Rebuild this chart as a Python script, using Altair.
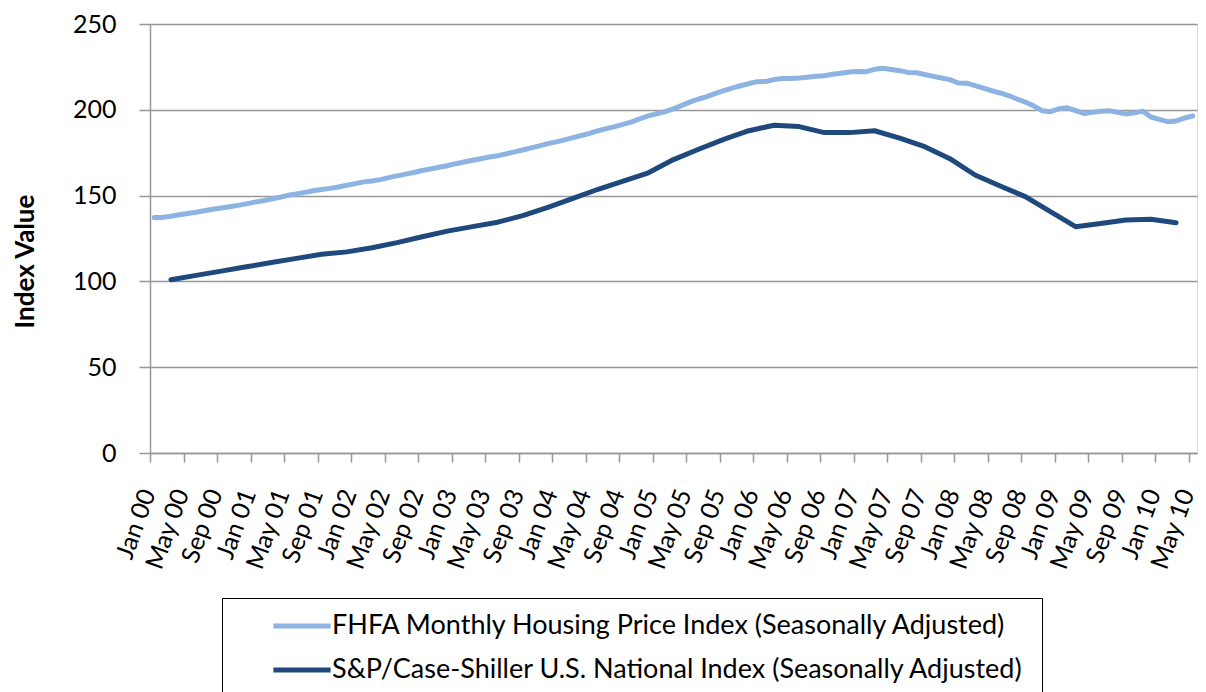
import altair as alt
import pandas as pd

# ---- data ----
fhfa_name = "FHFA Monthly Housing Price Index (Seasonally Adjusted)"
cs_name = "S&P/Case-Shiller U.S. National Index (Seasonally Adjusted)"
series_names = [fhfa_name, cs_name]
series_colors = ["#8db3e2", "#1f497d"]

# month index: 0 = Jan 2000
fhfa_months = list(range(0, 125))
fhfa_values = [
    137.3, 137.3, 138.0, 138.8, 139.6, 140.3, 141.2, 142.0, 142.8, 143.5,
    144.3, 145.2, 146.2, 147.0, 148.0, 149.0, 150.2, 151.0, 151.9, 152.8,
    153.6, 154.2, 155.0, 156.0, 157.0, 158.0, 158.5, 159.3, 160.5, 161.5,
    162.5, 163.5, 164.6, 165.5, 166.5, 167.4, 168.6, 169.6, 170.6, 171.5,
    172.5, 173.2, 174.3, 175.5, 176.6, 177.8, 179.0, 180.3, 181.3, 182.5,
    183.8, 185.0, 186.3, 187.8, 189.0, 190.2, 191.5, 193.0, 194.8, 196.5,
    197.7, 198.9, 200.6, 202.6, 204.6, 206.3, 207.7, 209.6, 211.2, 212.6,
    214.0, 215.3, 216.4, 216.5, 217.6, 218.2, 218.3, 218.5, 219.0, 219.5,
    219.8, 220.7, 221.3, 222.0, 222.3, 222.2, 223.6, 224.2, 223.5, 222.8,
    221.8, 221.6, 220.6, 219.5, 218.5, 217.6, 215.6, 215.5, 214.1, 212.6,
    211.1, 209.8, 208.3, 206.3, 204.5, 202.3, 199.5, 198.9, 200.6, 201.2,
    199.5, 197.9, 198.5, 199.1, 199.4, 198.6, 197.6, 198.2, 199.2, 195.8,
    194.4, 193.1, 193.5, 195.2, 196.4,
]

cs_months = list(range(2, 123, 3))
cs_values = [
    101.0, 103.5, 106.0, 108.5, 111.0, 113.4, 115.8, 117.2, 119.6, 122.6,
    126.0, 129.3, 131.9, 134.5, 138.3, 143.2, 148.4, 153.7, 158.5, 163.3,
    171.0, 177.0, 182.8, 187.8, 191.0, 190.2, 186.7, 186.7, 187.8, 183.5,
    178.5, 171.5, 162.0, 155.6, 149.4, 140.6, 131.9, 133.8, 135.8, 136.2,
    134.2,
]

tick_months = list(range(0, 125, 4))
tick_labels = []
for yr in range(0, 11):
    for m in ["Jan", "May", "Sep"]:
        tick_labels.append(f"{m} {yr:02d}")
tick_labels = tick_labels[:len(tick_months)]

y_ticks = [0, 50, 100, 150, 200, 250]

# ---- table ----
rows = []
for m, v in zip(fhfa_months, fhfa_values):
    rows.append({"series": fhfa_name, "month": m + 0.5, "value": v})
for m, v in zip(cs_months, cs_values):
    rows.append({"series": cs_name, "month": m + 0.5, "value": v})
df = pd.DataFrame(rows)

label_js = "[" + ",".join(f"'{t}'" for t in tick_labels) + "]"

FONT = "Lato"
GRID = "#979797"

chart = (
    alt.Chart(df)
    .mark_line(strokeWidth=5, strokeCap="round", strokeJoin="round")
    .encode(
        x=alt.X(
            "month:Q",
            scale=alt.Scale(domain=[0, 125], nice=False, zero=False),
            axis=alt.Axis(
                values=tick_months,
                labelExpr=f"{label_js}[round(datum.value / 4)]",
                labelAngle=-70,
                labelAlign="right",
                labelBaseline="middle",
                labelFont=FONT,
                labelFontSize=25,
                labelColor="#000000",
                labelPadding=28,
                labelOffset=-2,
                labelOverlap=False,
                tickSize=9,
                tickColor=GRID,
                tickWidth=1.5,
                domainColor=GRID,
                domainWidth=1.5,
                grid=False,
                title=None,
            ),
        ),
        y=alt.Y(
            "value:Q",
            scale=alt.Scale(domain=[0, 250], nice=False),
            axis=alt.Axis(
                values=y_ticks,
                title="Index Value",
                titleFont=FONT,
                titleFontSize=26,
                titleFontWeight="bold",
                titleColor="#000000",
                titleAngle=-90,
                titleX=-125,
                titleY=237,
                titleAlign="center",
                titleBaseline="middle",
                labelFont=FONT,
                labelFontSize=25,
                labelColor="#000000",
                labelPadding=23,
                tickSize=11,
                tickColor=GRID,
                tickWidth=1.5,
                domainColor=GRID,
                domainWidth=1.5,
                grid=True,
                gridColor=GRID,
                gridWidth=1.5,
            ),
        ),
        color=alt.Color(
            "series:N",
            scale=alt.Scale(domain=series_names, range=series_colors),
            legend=alt.Legend(
                title=["\u00a0", "\u00a0", "\u00a0", "\u00a0"],
                titleOrient="right",
                titleAnchor="start",
                titlePadding=14,
                titleFontSize=10,
                titleLineHeight=40,
                orient="none",
                legendX=72,
                legendY=574,
                direction="vertical",
                strokeColor="#000000",
                fillColor="#ffffff",
                padding=4,
                symbolType="M-1.33,0H1.33",
                symbolSize=1849,
                symbolStrokeWidth=5,
                symbolOffset=52,
                labelOffset=6,
                labelFont=FONT,
                labelFontSize=27,
                labelColor="#000000",
                labelLimit=2000,
                rowPadding=7,
            ),
        ),
    )
    .properties(
        width=1047,
        height=429,
        autosize=alt.AutoSizeParams(type="none"),
        padding={"left": 142, "top": 16, "right": 1, "bottom": 250},
    )
    .configure_view(fill="#f2f2f2", stroke=None)
    .configure(background="#ffffff")
)

chart.save("out.html", embed_options={"renderer": "svg", "actions": False})
